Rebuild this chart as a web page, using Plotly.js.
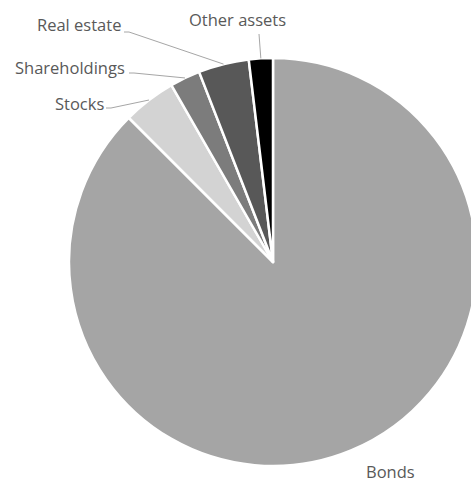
<!DOCTYPE html>
<html><head><meta charset="utf-8">
<script src="https://cdn.plot.ly/plotly-3.0.1.min.js"></script>
<style>html,body{margin:0;padding:0;overflow:hidden;background:#fff}#chart{width:490px;height:484px}</style>
</head><body><div id="chart"></div>
<script>
const categories = ["Bonds", "Stocks", "Shareholdings", "Real estate", "Other assets"];
const values = [87.5, 4.2, 2.4, 4.0, 1.9];
const colors = ["#a5a5a5", "#d3d3d3", "#7c7c7c", "#585858", "#000000"];

const W = 490, H = 484;
const cx = 273, cy = 262, R = 204;

// label positions (text centre) and leader line start points, in pixels
const labelPos = {
  "Bonds": {x: 390, y: 471, line: null},
  "Stocks": {x: 79, y: 103, line: [106, 108]},
  "Shareholdings": {x: 70, y: 68, line: [129, 73]},
  "Real estate": {x: 79, y: 24, line: [124, 32]},
  "Other assets": {x: 237, y: 20, line: [259, 34]}
};

const px = x => x / W, py = y => 1 - y / H;
const total = values.reduce((a, b) => a + b, 0);
const annotations = [], shapes = [];
let cum = 0;
// slices drawn clockwise starting at 12 o'clock
values.forEach((v, i) => {
  const mid = (cum + v / 2) / total * 2 * Math.PI;
  cum += v;
  const ex = cx + R * Math.sin(mid), ey = cy - R * Math.cos(mid);
  const lp = labelPos[categories[i]];
  annotations.push({x: px(lp.x), y: py(lp.y), xref: "paper", yref: "paper",
    text: categories[i], showarrow: false, xanchor: "center", yanchor: "middle",
    font: {family: "Open Sans, sans-serif", size: 16.5, color: "#595959"}});
  if (lp.line) {
    const [sx, sy] = lp.line;
    const path = (categories[i] === "Other assets")
      ? `M${px(sx)},${py(sy)} L${px(ex)},${py(ey)}`
      : `M${px(sx)},${py(sy)} L${px(sx + 5)},${py(sy)} L${px(ex)},${py(ey)}`;
    shapes.push({type: "path", xref: "paper", yref: "paper", path: path,
      line: {color: "#a6a6a6", width: 1}});
  }
});

const data = [{
  type: "pie", labels: categories, values: values, sort: false,
  direction: "clockwise", rotation: 0,
  marker: {colors: colors, line: {color: "#ffffff", width: 2.5}},
  textinfo: "none", hoverinfo: "label+value", showlegend: false,
  domain: {x: [(cx - R) / W, (cx + R) / W], y: [(H - cy - R) / H, (H - cy + R) / H]}
}];
const layout = {width: W, height: H, margin: {l: 0, r: 0, t: 0, b: 0},
  paper_bgcolor: "#ffffff", showlegend: false, annotations: annotations, shapes: shapes};
Plotly.newPlot("chart", data, layout, {staticPlot: true});
</script></body></html>
